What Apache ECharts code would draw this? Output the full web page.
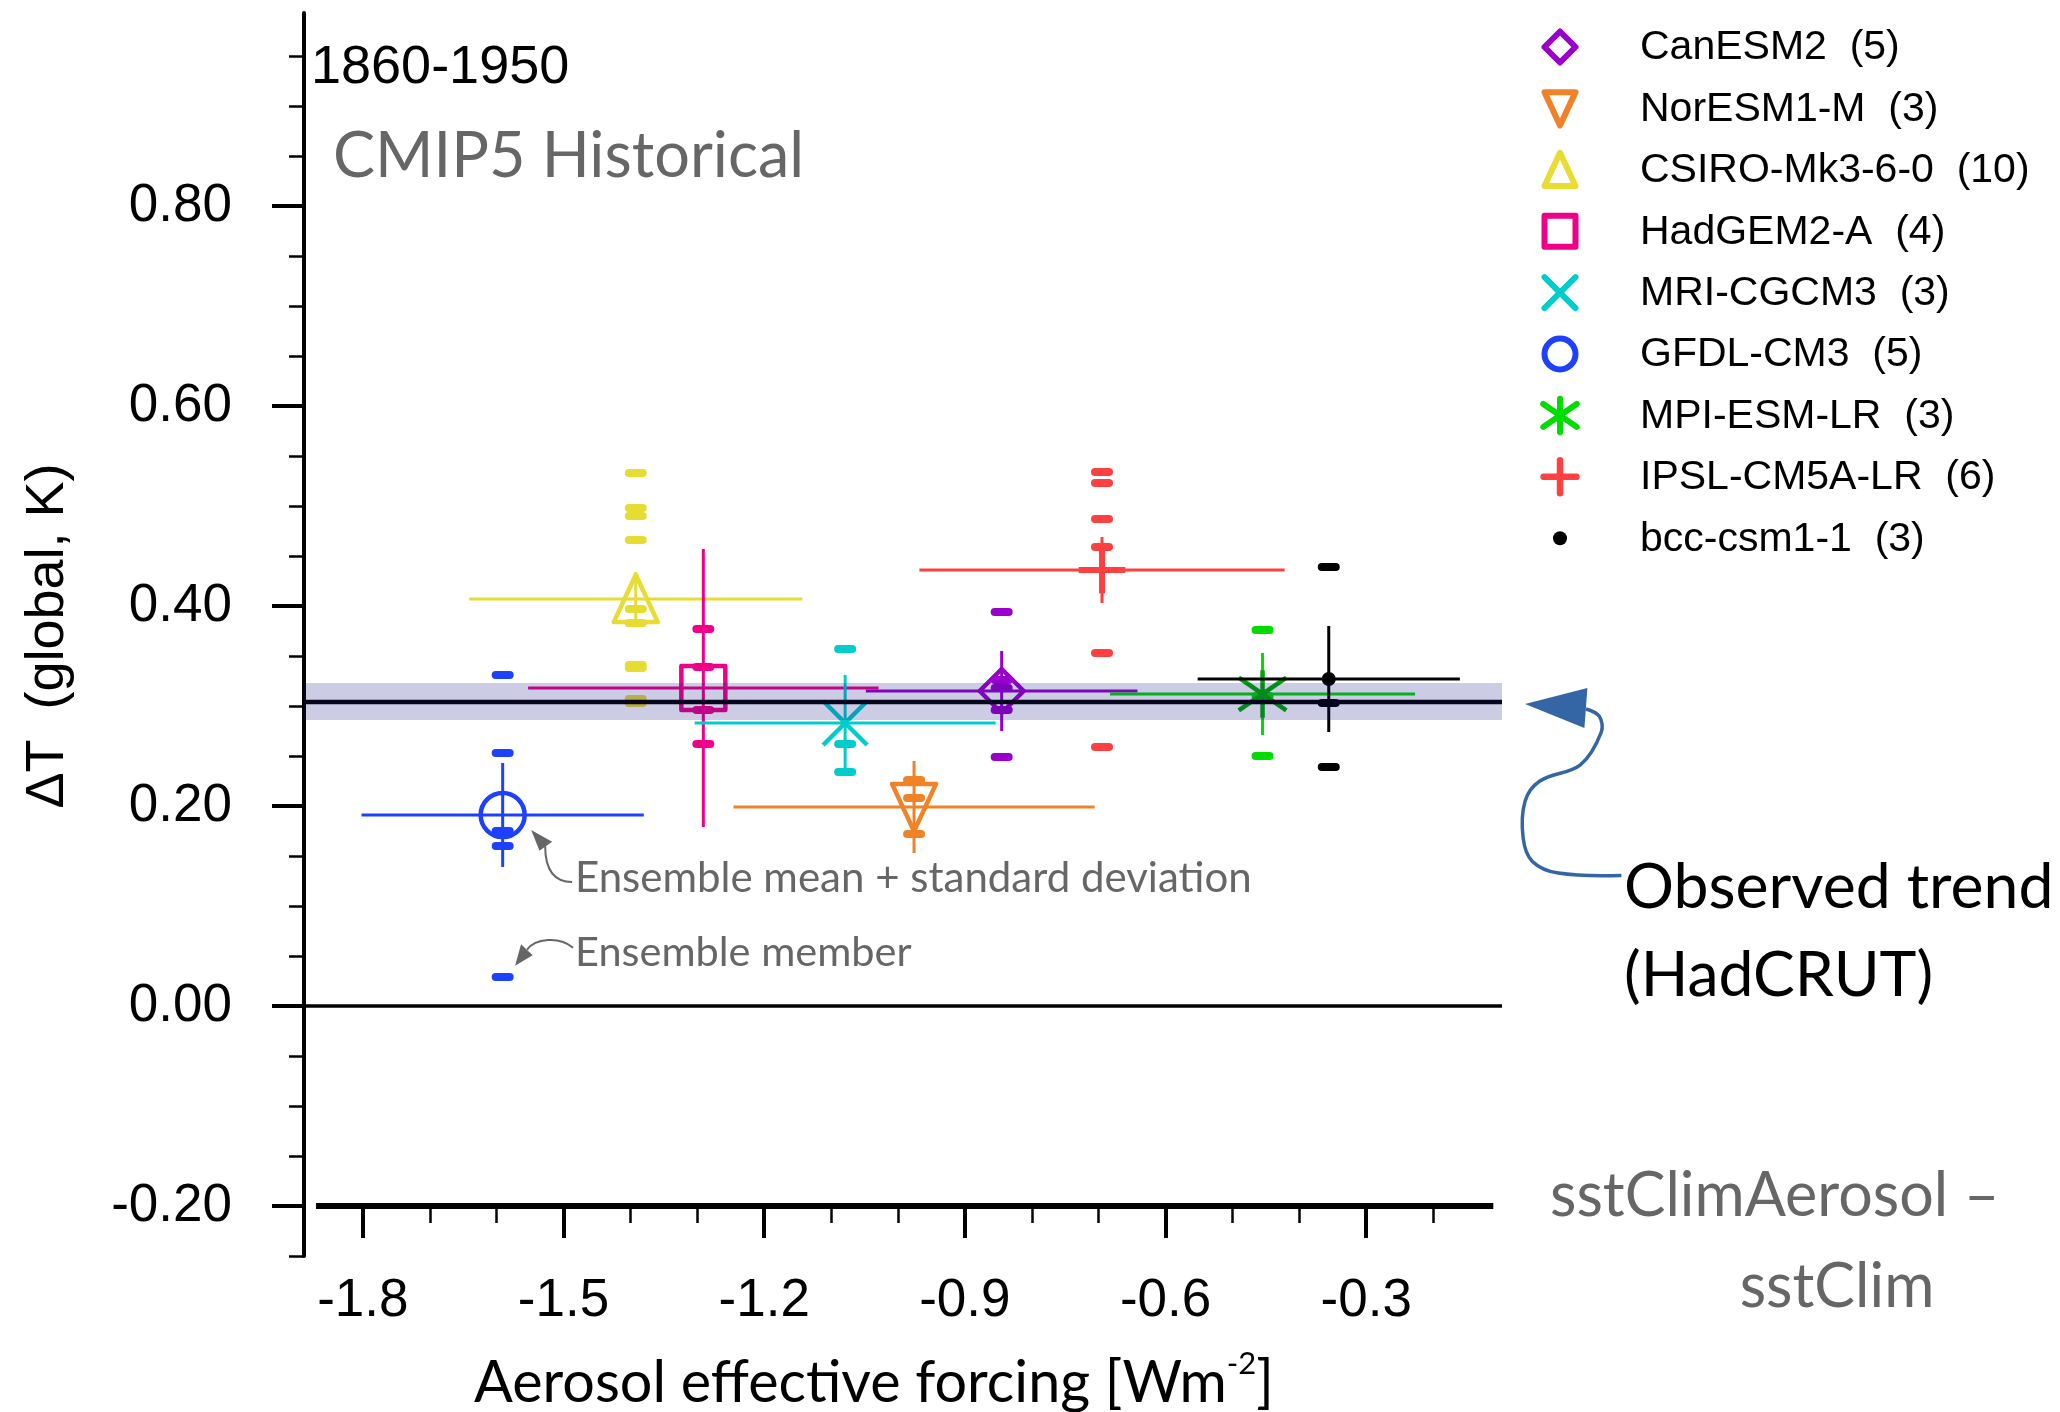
<!DOCTYPE html>
<html>
<head>
<meta charset="utf-8">
<title>Aerosol effective forcing vs. temperature change, 1860-1950</title>
<script src="https://cdn.jsdelivr.net/npm/echarts@6.0.0/dist/echarts.min.js"></script>
<style>
  html, body { margin: 0; padding: 0; background: #ffffff; }
  #chart { width: 2060px; height: 1412px; }
</style>
</head>
<body>
<div id="chart"></div>
<script>
// ---------------- data ----------------
const models = ['CanESM2', 'NorESM1-M', 'CSIRO-Mk3-6-0', 'HadGEM2-A', 'MRI-CGCM3',
                'GFDL-CM3', 'MPI-ESM-LR', 'IPSL-CM5A-LR', 'bcc-csm1-1'];
const memberCounts = [5, 3, 10, 4, 3, 5, 3, 6, 3];

// ensemble-mean aerosol effective forcing (W m-2) and its half range
const forcingMean   = [-0.845, -0.976, -1.392, -1.291, -1.079, -1.591, -0.455, -0.695, -0.356];
const forcingSpread = [0.203, 0.270, 0.249, 0.262, 0.225, 0.211, 0.228, 0.273, 0.196];

// ensemble-mean temperature change (K) and its error bar half length
const dTMean   = [0.315, 0.199, 0.407, 0.318, 0.283, 0.191, 0.312, 0.436, 0.327];
const dTSpread = [0.040, 0.046, 0.027, 0.139, 0.048, 0.052, 0.041, 0.033, 0.053];

// individual ensemble members (K)
const membersCanESM2  = [0.394, 0.326, 0.318, 0.296, 0.249];
const membersNorESM1M = [0.226, 0.208, 0.172];
const membersCSIRO    = [0.533, 0.498, 0.490, 0.466, 0.397, 0.383, 0.341, 0.338, 0.307, 0.303];
const membersHadGEM2A = [0.377, 0.339, 0.296, 0.262];
const membersMRI      = [0.357, 0.262, 0.234];
const membersGFDL     = [0.331, 0.253, 0.175, 0.160, 0.029];
const membersMPI      = [0.376, 0.310, 0.250];
const membersIPSL     = [0.534, 0.523, 0.487, 0.459, 0.353, 0.259];
const membersBCC      = [0.439, 0.303, 0.239];
const memberValues = [membersCanESM2, membersNorESM1M, membersCSIRO, membersHadGEM2A,
                      membersMRI, membersGFDL, membersMPI, membersIPSL, membersBCC];

// observed trend (HadCRUT) with its uncertainty band
const obsTrend = 0.304;
const obsLow = 0.286;
const obsHigh = 0.323;

// axes
const xMin = -1.888, xMax = -0.097;
const yMin = -0.25, yMax = 0.993;
const xMajorTicks = [-1.8, -1.5, -1.2, -0.9, -0.6, -0.3];
const xMinorTicks = [-1.7, -1.6, -1.4, -1.3, -1.1, -1.0, -0.8, -0.7, -0.5, -0.4, -0.2];
const yMajorTicks = [-0.2, 0, 0.2, 0.4, 0.6, 0.8];
const yMinorTicks = [-0.25, -0.15, -0.1, -0.05, 0.05, 0.1, 0.15, 0.25, 0.3, 0.35,
                     0.45, 0.5, 0.55, 0.65, 0.7, 0.75, 0.85, 0.9, 0.95];
const baseLineFrom = -1.87, baseLineTo = -0.11, baseLineLevel = -0.2;

// ---------------- styles ----------------
const colors = ['#9900cc', '#f08228', '#e6dc32', '#f00088', '#00cccc',
                '#1e40ff', '#00dc00', '#ff4040', '#000000'];
const markColors = ['#9900cc', '#f08228', '#e6dc32', '#f00088', '#00cccc',
                    '#1e40ff', '#00a800', '#ff4040', '#000000'];
const symbols = ['diamond', 'triangleDown', 'triangle', 'square', 'cross',
                 'circle', 'asterisk', 'plus', 'dot'];
const SANS = '"Liberation Sans", Arial, sans-serif';
const GEO = 'Lato, "Open Sans", sans-serif';
const GREY = '#666666';

// outline marker builder, shared by plot and key
function marker(kind, cx, cy, cfg, color) {
  const r = cfg.r, lw = cfg.lw;
  const st = { stroke: color, lineWidth: lw, fill: 'none', lineJoin: 'round', lineCap: cfg.cap };
  const ln = (x1, y1, x2, y2, w) => ({ type: 'line', shape: { x1, y1, x2, y2 },
                                        style: Object.assign({}, st, { lineWidth: w || lw }) });
  switch (kind) {
    case 'diamond':
      return [{ type: 'polygon', shape: { points: [[cx, cy - r], [cx + r, cy], [cx, cy + r], [cx - r, cy]] }, style: st }];
    case 'triangle':
      return [{ type: 'polygon', shape: { points: [[cx, cy - 1.1 * r], [cx + r, cy + 1.05 * r], [cx - r, cy + 1.05 * r]] }, style: st }];
    case 'triangleDown':
      return [{ type: 'polygon', shape: { points: [[cx, cy + 1.1 * r], [cx + r, cy - 1.05 * r], [cx - r, cy - 1.05 * r]] }, style: st }];
    case 'square':
      return [{ type: 'rect', shape: { x: cx - r, y: cy - r, width: 2 * r, height: 2 * r }, style: st }];
    case 'circle':
      return [{ type: 'circle', shape: { cx, cy, r }, style: st }];
    case 'cross':
      return [ln(cx - r, cy - r, cx + r, cy + r), ln(cx - r, cy + r, cx + r, cy - r)];
    case 'asterisk':
      return [ln(cx, cy - 1.08 * r, cx, cy + 1.08 * r),
              ln(cx - 1.08 * r, cy - 0.74 * r, cx + 1.08 * r, cy + 0.74 * r),
              ln(cx - 1.08 * r, cy + 0.74 * r, cx + 1.08 * r, cy - 0.74 * r)];
    case 'plus':
      return [ln(cx - 1.06 * r, cy, cx + 1.06 * r, cy, cfg.plusW),
              ln(cx, cy - 1.06 * r, cx, cy + 1.06 * r, cfg.plusW)];
    case 'dot':
      return [{ type: 'circle', shape: { cx, cy, r: cfg.dot }, style: { fill: color } }];
  }
  return [];
}
const PLOT_MARK = { r: 22, lw: 4.5, plusW: 6, dot: 7, cap: 'butt' };
const KEY_MARK = { r: 15.5, lw: 6, plusW: 6.5, dot: 7, cap: 'round' };

// ---------------- series data ----------------
const meanData = models.map((m, i) => [forcingMean[i], dTMean[i], forcingSpread[i], dTSpread[i], i]);
const memberData = [];
memberValues.forEach((vals, i) => vals.forEach(v => memberData.push([forcingMean[i], v, i])));

const chart = echarts.init(document.getElementById('chart'), null, { renderer: 'canvas' });

const axisCommon = { splitLine: { show: false } };

chart.setOption({
  animation: false,
  backgroundColor: '#ffffff',
  grid: { left: 304, right: 558, top: 13, bottom: 156, containLabel: false },
  xAxis: [
    Object.assign({}, axisCommon, {
      type: 'value', min: xMin, max: xMax, position: 'bottom', offset: -50,
      axisLine: { show: false, onZero: false },
      axisTick: { show: true, customValues: xMajorTicks, length: 32, lineStyle: { color: '#000', width: 4 } },
      axisLabel: { customValues: xMajorTicks, formatter: v => v.toFixed(1), margin: 69,
                   fontSize: 53, fontFamily: SANS, color: '#000' }
    }),
    Object.assign({}, axisCommon, {
      type: 'value', min: xMin, max: xMax, position: 'bottom', offset: -50,
      axisLine: { show: false, onZero: false },
      axisTick: { show: true, customValues: xMinorTicks, length: 17, lineStyle: { color: '#000', width: 2.5 } },
      axisLabel: { show: false }
    })
  ],
  yAxis: [
    Object.assign({}, axisCommon, {
      type: 'value', min: yMin, max: yMax, position: 'left',
      axisLine: { show: true, onZero: false, lineStyle: { color: '#000', width: 4 } },
      axisTick: { show: true, customValues: yMajorTicks, length: 32, lineStyle: { color: '#000', width: 4 } },
      axisLabel: { customValues: yMajorTicks, formatter: v => v.toFixed(2), margin: 72,
                   fontSize: 53, fontFamily: SANS, color: '#000' }
    }),
    Object.assign({}, axisCommon, {
      type: 'value', min: yMin, max: yMax, position: 'left',
      axisLine: { show: false, onZero: false },
      axisTick: { show: true, customValues: yMinorTicks, length: 15, lineStyle: { color: '#000', width: 2.5 } },
      axisLabel: { show: false }
    })
  ],
  series: [
    {
      name: 'zero', type: 'line', z: 1, symbol: 'none', silent: true,
      data: [[xMin, 0], [xMax, 0]],
      lineStyle: { color: '#000', width: 3.5 }
    },
    {
      name: 'base', type: 'line', z: 1, symbol: 'none', silent: true,
      data: [[baseLineFrom, baseLineLevel], [baseLineTo, baseLineLevel]],
      lineStyle: { color: '#000', width: 6 }
    },
    {
      name: 'members', type: 'custom', z: 2, clip: false,
      encode: { x: 0, y: 1 },
      data: memberData,
      renderItem: (params, api) => {
        const p = api.coord([api.value(0), api.value(1)]);
        const i = api.value(2);
        return { type: 'rect', shape: { x: p[0] - 11, y: p[1] - 4, width: 22, height: 8, r: 4 },
                 style: { fill: colors[i] } };
      }
    },
    {
      name: 'means', type: 'custom', z: 3, clip: false,
      encode: { x: 0, y: 1 },
      data: meanData,
      renderItem: (params, api) => {
        const x = api.value(0), y = api.value(1), sx = api.value(2), sy = api.value(3), i = api.value(4);
        const c = api.coord([x, y]);
        const l = api.coord([x - sx, y]), r = api.coord([x + sx, y]);
        const t = api.coord([x, y + sy]), b = api.coord([x, y - sy]);
        const col = colors[i];
        const children = [
          { type: 'line', shape: { x1: l[0], y1: c[1], x2: r[0], y2: c[1] }, style: { stroke: col, lineWidth: 3 } },
          { type: 'line', shape: { x1: c[0], y1: t[1], x2: c[0], y2: b[1] }, style: { stroke: col, lineWidth: 3 } }
        ].concat(marker(symbols[i], c[0], c[1], PLOT_MARK, markColors[i]));
        return { type: 'group', children };
      }
    },
    {
      name: 'obsLine', type: 'line', z: 4, symbol: 'none', silent: true,
      data: [[xMin, obsTrend], [xMax, obsTrend]],
      lineStyle: { color: '#000', width: 4.5 }
    },
    {
      name: 'obsBand', type: 'custom', z: 5, silent: true,
      encode: { x: [0, 2], y: [1, 3] },
      data: [[xMin, obsLow, xMax, obsHigh]],
      renderItem: (params, api) => {
        const a = api.coord([api.value(0), api.value(3)]);
        const b = api.coord([api.value(2), api.value(1)]);
        return { type: 'rect', shape: { x: a[0], y: a[1], width: b[0] - a[0], height: b[1] - a[1] },
                 style: { fill: 'rgba(23,23,132,0.22)' } };
      }
    }
  ]
});

// ---------------- annotations and key ----------------
const px = v => chart.convertToPixel({ gridIndex: 0 }, v);
const g = [];
const txt = (text, x, y, font, fill, align, extra) => g.push(Object.assign({
  type: 'text', z: 100, silent: true,
  style: { text, x, y, font, fill, textAlign: align || 'left', textVerticalAlign: 'middle' }
}, extra || {}));

// key
models.forEach((m, i) => {
  const cy = 47 + i * 61.4;
  marker(symbols[i], 1560, cy, KEY_MARK, colors[i]).forEach(el => g.push(Object.assign({ z: 100, silent: true }, el)));
  txt(m + '  (' + memberCounts[i] + ')', 1640, cy + 1, '41px ' + SANS, '#000');
});

// panel titles
txt('1860-1950', 311, 68, '54px ' + SANS, '#000');
txt('CMIP5 Historical', 333, 157, '63px ' + GEO, GREY);
txt('sstClimAerosol \u2013', 1550, 1196, '61px ' + GEO, GREY);
txt('sstClim', 1837, 1287, '61px ' + GEO, GREY, 'center');

// axis titles
g.push({
  type: 'text', z: 100, silent: true, x: 48, y: 636, rotation: Math.PI / 2,
  style: { text: '\u0394T  (global, K)', x: 0, y: 0, font: '54px ' + SANS, fill: '#000',
           textAlign: 'center', textVerticalAlign: 'middle' }
});
g.push({
  type: 'text', z: 100, silent: true, x: 874, y: 1377,
  style: {
    text: '{a|Aerosol effective forcing [Wm}{s|-2}{a|]}', x: 0, y: 0,
    textAlign: 'center', textVerticalAlign: 'middle', fill: '#000',
    rich: {
      a: { fontSize: 57.5, fontFamily: GEO, lineHeight: 70, verticalAlign: 'bottom' },
      s: { fontSize: 31, fontFamily: GEO, lineHeight: 70, verticalAlign: 'top', padding: [6, 0, 0, 0] }
    }
  }
});

// ensemble annotations, anchored on GFDL-CM3
const gi = 5;
const mc = px([forcingMean[gi], dTMean[gi]]);
const lowMember = Math.min.apply(null, membersGFDL);
const lc = px([forcingMean[gi], lowMember]);
const tipA = [mc[0] + 28.5, mc[1] + 15];
g.push({ type: 'bezierCurve', z: 100, silent: true,
  shape: { x1: tipA[0] + 14, y1: tipA[1] + 16, cpx1: tipA[0] + 14, cpy1: tipA[1] + 38,
           cpx2: tipA[0] + 22, cpy2: tipA[1] + 52, x2: tipA[0] + 41, y2: tipA[1] + 52 },
  style: { stroke: GREY, lineWidth: 2, fill: 'none' } });
g.push({ type: 'polygon', z: 100, silent: true,
  shape: { points: [tipA, [tipA[0] + 21, tipA[1] + 11.7], [tipA[0] + 8.3, tipA[1] + 20.7]] },
  style: { fill: GREY } });
txt('Ensemble mean + standard deviation', 575, 878, '42px ' + GEO, GREY);

const tipB = [lc[0] + 12.4, lc[1] - 11.3];
g.push({ type: 'bezierCurve', z: 100, silent: true,
  shape: { x1: tipB[0] + 12, y1: tipB[1] - 16, cpx1: tipB[0] + 20, cpy1: tipB[1] - 27,
           cpx2: tipB[0] + 44, cpy2: tipB[1] - 30, x2: tipB[0] + 58, y2: tipB[1] - 18 },
  style: { stroke: GREY, lineWidth: 2, fill: 'none' } });
g.push({ type: 'polygon', z: 100, silent: true,
  shape: { points: [tipB, [tipB[0] + 6, tipB[1] - 21.5], [tipB[0] + 17.6, tipB[1] - 10.4]] },
  style: { fill: GREY } });
txt('Ensemble member', 575, 953, '41.5px ' + GEO, GREY);

// observed trend pointer
const oe = px([xMax, obsTrend]);
const tip = [oe[0] + 23, oe[1] + 2];
const rel = [[61, 5], [74.4, 12.4], [76.2, 28.4], [55.4, 60.8], [14.9, 77], [0, 97.4],
             [-1.8, 134.4], [7.4, 157.4], [33.4, 169.1], [96.4, 171.4]];
g.push({ type: 'polyline', z: 100, silent: true,
  shape: { points: rel.map(p => [tip[0] + p[0], tip[1] + p[1]]), smooth: 0.35 },
  style: { stroke: '#3465a4', lineWidth: 3.5, fill: 'none' } });
g.push({ type: 'polygon', z: 101, silent: true,
  shape: { points: [tip, [tip[0] + 62.4, tip[1] - 16.1], [tip[0] + 59.4, tip[1] + 24]] },
  style: { fill: '#3465a4' } });
txt('Observed trend', 1624, 888, '62.5px ' + GEO, '#000');
txt('(HadCRUT)', 1624, 976, '62.5px ' + GEO, '#000');

chart.setOption({ graphic: g });
</script>
</body>
</html>
